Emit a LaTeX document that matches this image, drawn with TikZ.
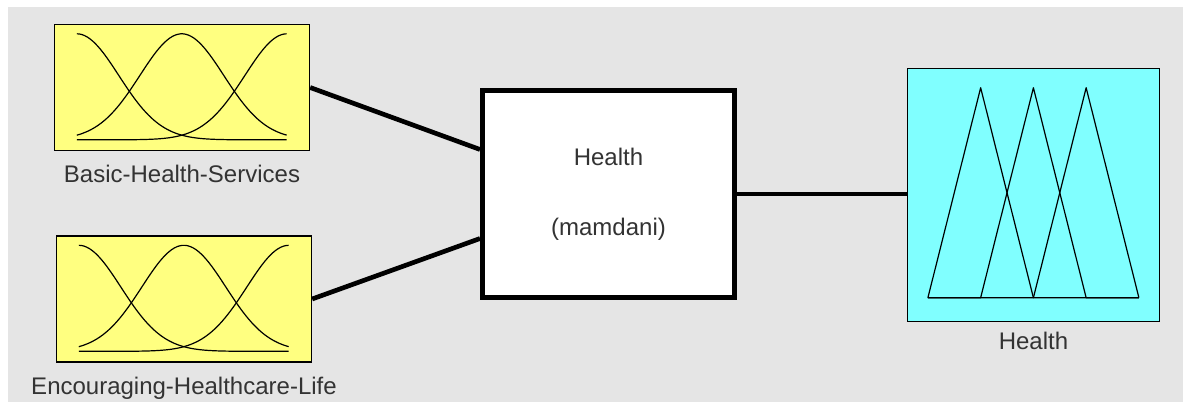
\documentclass[tikz,border=0pt]{standalone}
\usepackage{fontspec}
\setmainfont{Liberation Sans}
\usepackage{tikz}
\usetikzlibrary{positioning,calc}

\definecolor{bggray}{RGB}{229,229,229}
\definecolor{mfyellow}{RGB}{255,255,128}
\definecolor{mfcyan}{RGB}{128,255,255}

\begin{document}
\begin{tikzpicture}[x=0.75pt,y=-0.75pt,
    inbox/.style={draw,fill=mfyellow,line width=1pt,minimum width=191.25pt,minimum height=94.5pt,inner sep=0pt},
    outbox/.style={draw,fill=mfcyan,line width=0.9pt,minimum width=189pt,minimum height=190pt,inner sep=0pt},
    fisbox/.style={draw,fill=white,line width=3.75pt,minimum width=189pt,minimum height=155.25pt,align=center,
                   font=\fontsize{18}{52.5}\selectfont,text=black!80},
    lbl/.style={inner sep=0pt,font=\fontsize{18}{21}\selectfont,text=black!80},
    wire/.style={line width=3.5pt},
    mf/.style={line width=0.9pt,line join=round}]
  \useasboundingbox (0,0) rectangle (1185,406);
  \fill[bggray] (8,7) rectangle (1183,402);

  \node[inbox] (bhs) at (182,87.5) {};
  \node[inbox] (ehl) at (184,299) {};
  \node[fisbox] (fis) at (608.5,194) {Health\\(mamdani)};
  \node[outbox] (out) at (1033.5,195) {};

  \node[lbl] (bhs_l) [below=10.5pt of bhs] {Basic-Health-Services};
  \node[lbl] (ehl_l) [below=10.5pt of ehl] {Encouraging-Healthcare-Life};
  \node[lbl] (out_l) [below=7.5pt of out] {Health};

  % gaussian membership functions
  \foreach \n in {bhs,ehl}
    \foreach \c in {0,0.5,1}
      \draw[mf,shift={(\n.north west)}] plot[domain=0:1,samples=80,smooth]
        ({23+210*\x},{116-106*exp(-((\x-\c)^2)/(2*0.2^2))});

  % triangular membership functions
  \begin{scope}[shift={(out.north west)},mf]
    \draw (21,230) -- (73.75,20) -- (126.5,230) -- (232,230);
    \draw (21,230) -- (73.75,230) -- (126.5,20) -- (179.25,230) -- (232,230);
    \draw (21,230) -- (126.5,230) -- (179.25,20) -- (232,230);
  \end{scope}

  \coordinate (fis_a) at ($(fis.north west)!0.29!(fis.south west)$);
  \coordinate (fis_b) at ($(fis.north west)!0.71!(fis.south west)$);
  \draw[wire] (bhs.east) -- (fis_a);
  \draw[wire] (ehl.east) -- (fis_b);
  \draw[wire] (fis.east) -- (fis.east -| out.west);
\end{tikzpicture}
\end{document}
